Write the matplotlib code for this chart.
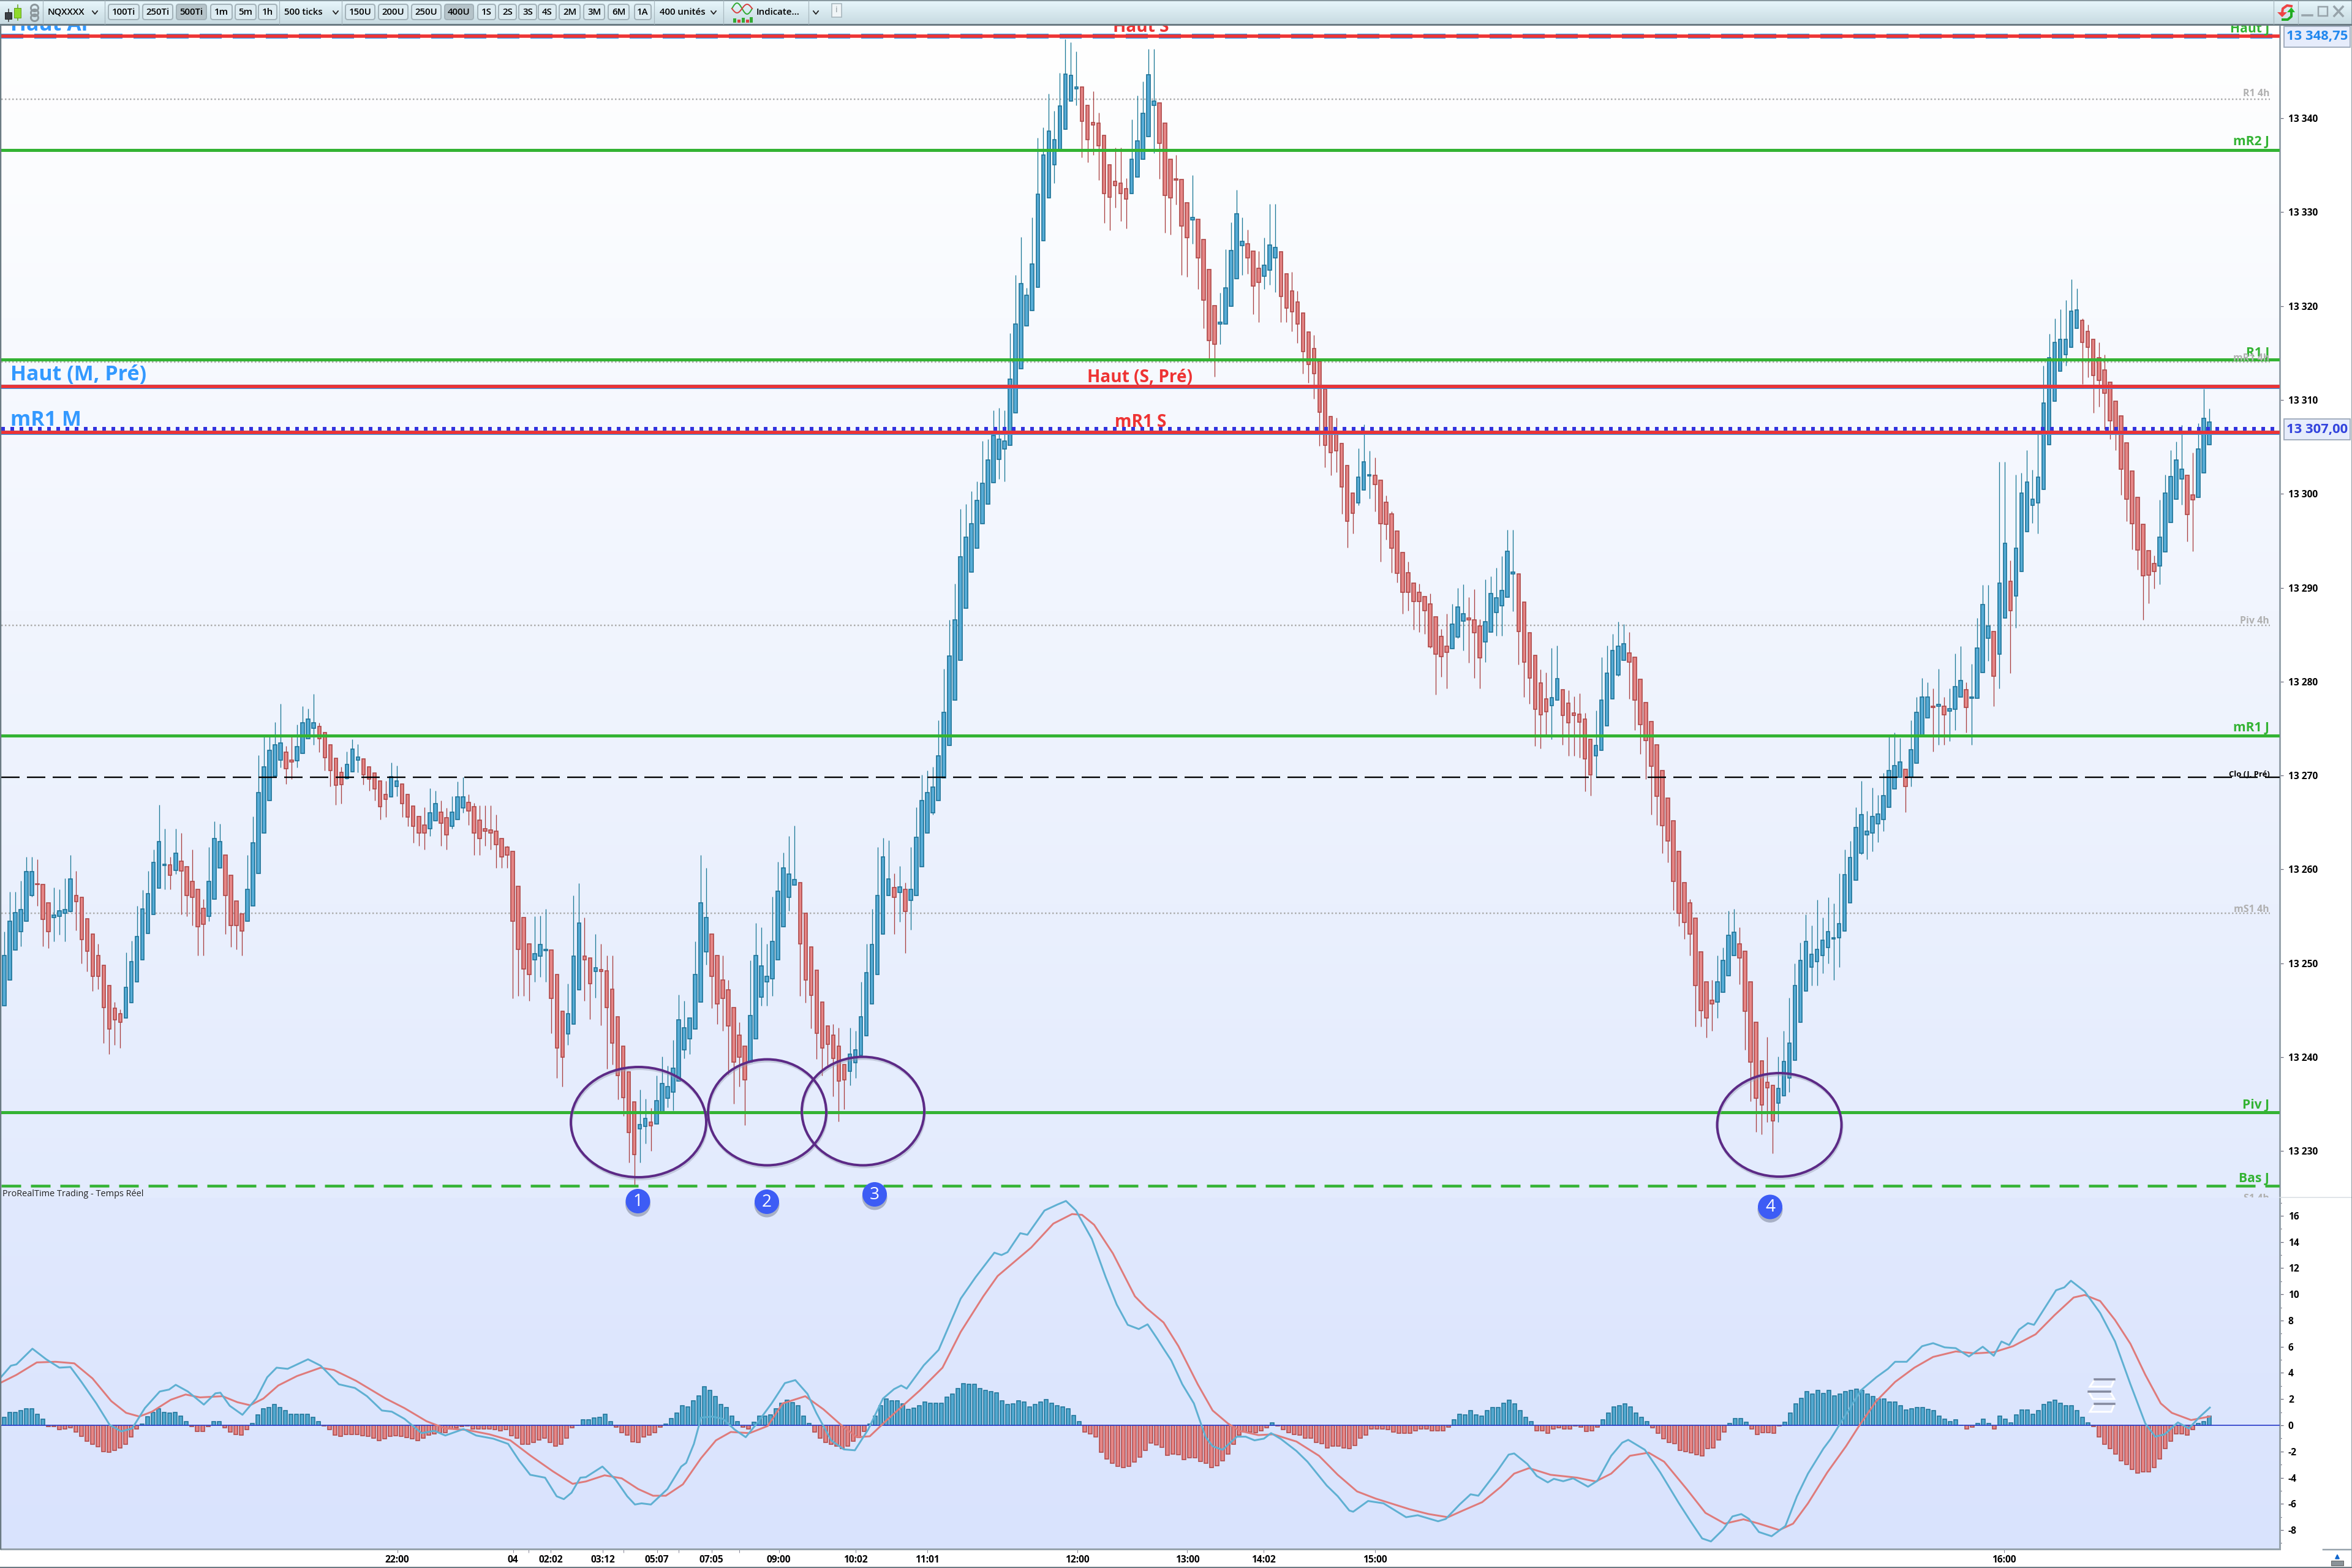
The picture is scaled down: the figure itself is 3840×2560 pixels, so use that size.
import numpy as np
import matplotlib
matplotlib.use("Agg")
import matplotlib.pyplot as plt
from matplotlib.colors import LinearSegmentedColormap
from matplotlib.patches import Rectangle, Ellipse, FancyBboxPatch, Polygon
from matplotlib.ticker import FixedLocator, FixedFormatter

plt.rcParams['font.family'] = ['Open Sans', 'DejaVu Sans']
plt.rcParams['lines.scale_dashes'] = False

PRICE_BASE = 13000
body_high = [
250.8,254.5,255.4,255.7,259.75,259.75,258.45,258.4,256.45,255.15,
255.6,255.7,259,257.25,257,254.75,253.1,250.8,249.8,247.6,
245.2,244.65,247.45,250.2,252.85,255.8,257.4,260.75,262.95,260.5,
260.5,261.75,260.9,260.3,258.75,257.85,255.85,258.75,263.3,262.95,
261.55,259.4,256.65,255.25,257.85,262.85,268.2,270.9,272.65,273.25,
273.45,272.5,271.65,273.1,275.6,276,275.6,275.25,274.6,273.25,
271.85,270.35,271.15,272.8,271.95,271.75,270.95,270.3,269.4,268,
269.9,269.4,269.1,268,266.75,265.65,264.7,266,267,266.1,
265.5,266.1,267.75,267.75,267.15,266.65,265.25,264.3,264.2,264.1,
263.3,262.35,261.9,258.2,254.85,252.1,251,252,251.5,251.4,
248.8,244.9,244.65,250.75,254.3,250.75,250.55,249.55,249.35,249.2,
247.25,244.3,241.2,238.45,235.25,232.85,233.5,233.1,235.35,237.2,
236.85,238.8,243.95,243.1,244.15,248.8,256.45,254.9,253.1,250.8,
248.25,247.2,245.3,242.35,241.2,244.45,250.8,249.75,248.6,252.3,
257.65,260.15,259.5,258.9,258.6,255.3,251.75,249.25,245.9,243.35,
242.35,241.15,239.2,240.35,240.8,244.3,249,252,257.25,261.3,
259,258.05,258.15,257.85,257.85,263.45,267.35,268.15,268.75,272.1,
276.75,282.7,286.55,293.3,295.4,296.8,299.3,301.1,303.6,306.2,
305.8,305.6,312.2,318.1,322.4,321.15,324.5,331.9,336.1,338.6,
337.7,341.3,344.7,344.55,343.35,343.3,341.4,339.55,339.45,338.2,
335.05,333.3,333.1,332.5,335.65,337.6,340.55,344.65,341.8,341.6,
339.45,335.65,333.55,333.5,331,329.4,329.25,327.1,323.9,320.05,
318.3,321.95,325.9,329.85,326.9,326.65,325.85,324,324.35,326.5,
326.25,325.75,323.4,321.6,320.45,319.25,317.25,315.5,314.1,311.2,
308.25,306.35,305.35,303,300.1,301.8,303.4,302,302,301.45,
299.1,297.85,296.05,293.75,291.6,290.5,289.5,289.05,288.3,286.9,
284.8,283.8,286.15,287.95,287.2,286.8,286.6,285.9,286.4,289.35,
288.95,289.7,293.85,291.65,291.5,288.45,285.2,282.8,279.85,278.15,
278.3,280.3,279.15,277.7,276.65,276.5,276,273.85,273.2,278,
280.9,283.3,283.8,284,283.05,282.6,280.25,277.75,275.75,273.25,
270.55,267.6,265.2,261.9,258.6,256.45,254.8,251.2,248.05,246.05,
248,250.3,252.95,253.3,252.05,251.3,248.05,243.75,239.6,237.3,
237,236.65,239.55,241.5,247.6,250.3,252.3,250.95,251.45,252.45,
253.4,252.75,254.25,259.45,261.25,264.45,265.85,264.1,265.65,265.9,
267.85,270.5,271.05,271.45,270.65,272.75,276.7,278.35,278.35,277.35,
277.55,277.35,277.1,279.45,280.1,279.15,278.35,283.6,288.2,285.95,
285.35,290.5,294.7,290.7,294.2,300.05,301.25,299.45,301.8,309.65,
314.5,316.1,316.45,316.45,319.45,319.6,318.45,317.3,316.45,314.5,
313.2,311.9,309.85,308.3,305.45,302.4,299.6,296.75,293.95,292.6,
295.4,300.05,301.85,303.6,302.6,302,299.85,304.8,308.05,307.65]
body_low = [
245.5,248.2,251.4,253.35,254.5,257.2,258.37,254.65,253.35,254.9,
255,255.3,255.5,256.6,252.5,251.3,248.6,248.6,245.3,243,
243.95,243.7,244.15,245.8,248,250.4,253.15,255.2,258,260.45,
259.35,259.9,259.85,257.2,257,253.9,254.15,255,256.85,260.15,
257.25,254.05,254.05,253.45,254.45,256.1,259.55,263.9,267.35,269.95,
271.65,270.75,271.45,271.55,272.35,273.9,275,273.9,271.9,270.5,
268.95,269,269.7,270.4,271.65,270.1,269.6,268.6,266.65,267.45,
267.75,268.8,267,265.6,264.6,263.85,263.9,264.3,265.2,264.9,
263.7,264.6,265.3,266.55,266.25,263.9,263.3,264.1,263.9,262.65,
261.35,261.5,254.5,251.5,249.4,248.8,250.4,250.75,251.35,246.25,
241,240,242.5,243.55,247.2,250.4,247.8,249.15,249.15,245.3,
241.5,238.05,235.7,232,229.6,232.4,232.6,232.7,232.9,234.2,
235.65,236.25,237.45,240.8,241.95,243,245.9,251.2,248.6,245.65,
246.25,243.35,239.45,240,237.6,239.45,241.95,246.4,248,248.35,
250.35,253.9,257.05,258.35,252.1,248.25,246.6,242.55,240.95,241.35,
239.85,237.45,237.6,238.5,239.4,240.2,242.3,245.65,248.8,253.1,
257.2,257.05,257.55,255.5,256.7,257.25,260.3,263.85,266,267.35,
269.75,273.2,278,282.3,287.8,291.65,294.2,296.8,298.9,301.2,
303.65,304.75,305.15,308.65,313.35,317.9,319.5,322,326.95,331.55,
335.05,336.45,338.85,341.8,343.15,339.65,337.7,339.25,337.05,331.95,
331.6,332.8,331.95,331.4,331.95,333.75,335.65,338.05,341.35,337.3,
331.8,331.55,333.4,328.5,327.3,329.2,325.1,320.65,316.3,315.9,
318.05,318.1,320,322.9,326.45,325.1,322.15,322.5,323.2,323.8,
325.15,321.05,319.8,319.4,318.1,315.15,313.75,312.8,308.7,305.15,
304.4,304.6,300.7,297.1,297.95,299.05,300.4,301.9,301,296.8,
296.75,294.2,291.55,289.5,289.5,288.5,288.5,287.55,283.7,282.9,
282.65,283.1,283.5,284.75,286.45,286.55,285.2,282.5,284.2,285.25,
287.35,288.1,289,291.45,285.35,282.05,280.4,277.05,276.45,276.8,
277.45,278,276.4,275.6,276.4,275.65,271.75,270.1,272.1,272.7,
275.3,278.15,280.7,282.3,282.1,278,275.4,273.7,271,267.8,
264.65,263.05,258.75,255.3,254.35,253.1,247.65,244.95,244.15,245.65,
245.9,246.9,248.7,250.85,250.55,244.9,239.5,235.6,234.9,236.75,
233.2,235.1,235.9,237.75,239.65,243.75,247.05,249.6,250.2,250.85,
251.65,252.6,252.75,253.45,256.45,258.85,261.7,263.7,263.9,264.85,
265.3,266.6,268.6,269.8,268.8,269.8,271.3,274.1,276.15,277.25,
277.35,276.45,276.85,277.05,278.35,277.25,278.25,278.25,280.95,284.6,
280.55,282.9,286.75,287.55,289.1,291.75,295.95,298.75,299.05,300.45,
305.2,309.85,313.05,314.8,315.6,317.6,316.1,315.6,312.6,312.05,
310.7,307.8,306.45,302.65,299.45,296.8,294,291.3,291.35,291.75,
292.3,293.8,296.95,299.45,301.55,297.8,299.35,299.65,302.2,305.2]
wick_high = [
253.4,257.6,257.6,258.8,261.3,261.3,261.1,258.4,256.45,258.1,
257.9,259.05,261.55,259.85,257,254.75,253.1,252.1,249.8,247.6,
245.85,245.1,251.15,252.4,256.1,257.8,259.85,262.1,266.85,264.3,
261.3,264.3,263.9,260.3,262.1,257.85,256.85,262.4,265.1,264.85,
261.55,259.4,256.65,255.25,261.55,265.65,272.15,274.1,274.1,275.65,
277.65,273.15,274.1,275.4,277.35,277.1,278.65,275.6,274.6,273.25,
271.85,270.9,272.55,273.85,273.35,271.75,270.95,270.3,269.4,269.4,
271.35,271.05,269.1,268,266.75,265.65,266.6,268.65,268.35,267.35,
266.55,267.8,269.35,269.8,268,267.1,266.8,266.8,266.8,265.8,
263.3,262.5,261.9,258.2,254.85,252.1,255,255.05,255.8,251.4,
248.8,244.9,247.8,257.25,258.55,254.9,250.55,253.1,252.1,250.85,
250.85,244.3,241.2,238.45,235.25,236.55,235.55,234.6,238.05,240.05,
239.1,241.8,246.65,246,244.15,252.3,261.55,260.15,253.1,250.85,
250.8,248.25,245.3,243.75,241.2,250.3,254.3,253.85,252.1,257.1,
260.8,261.8,263.55,264.65,258.6,255.3,251.75,249.25,245.9,243.35,
243.55,243.1,239.2,243.1,242.8,248,252.1,255.8,262.4,263.35,
263.1,259.55,260.35,258.6,262.4,266.6,270.1,270.55,270.9,275.9,
281.35,286.6,290.4,298.4,298.9,300.3,301.3,305.6,305.8,308.9,
309.15,308.9,317.1,323.3,327.35,321.9,329.45,337.9,339,342.6,
340.8,344.85,348.4,348.1,347.1,343.3,341.4,342.9,340.6,338.2,
335.05,336.85,336.85,333.6,339.85,342.4,343.9,347.4,347.4,341.6,
339.45,335.65,336.1,333.5,331,333.95,329.25,327.1,323.9,320.05,
321.4,326.05,328.9,332.35,329.45,328.15,325.85,325.85,327.3,330.85,
330.85,325.75,323.4,323.6,321.6,319.25,317.25,316.9,314.1,311.2,
308.25,308.1,305.35,303,300.1,304.85,307.4,304.6,303.85,301.45,
299.8,298.1,296.05,293.75,292.75,290.5,290.45,289.05,289.4,286.9,
285.6,287.25,288.3,290,290.35,289,289.85,286.65,290.85,291.2,
292.15,293.35,296.15,296.15,291.5,288.45,285.2,282.8,281.3,280.95,
283.6,283.85,279.15,279.1,278.4,278.75,276.65,273.85,276.9,282.6,
283.85,285.1,286.35,286.1,285.3,282.6,280.25,277.75,275.75,273.25,
270.55,267.6,265.2,261.9,258.6,256.85,254.8,251.2,248.05,248.2,
250.85,251.7,255.6,255.8,253.85,251.3,248.05,243.75,239.6,242.15,
237,240.05,242.8,246.35,250,252.2,255.2,254.05,256.75,254.85,
257.05,256.4,259.6,262.1,263.05,266.6,269.4,266.25,268.7,267.9,
270.25,274.25,274.6,274,270.65,275.9,278.35,280.35,279.9,279.25,
281.35,278.35,279.25,283,283.75,279.9,281.9,286.8,290.3,290.3,
285.35,303.4,303.4,292.9,302.05,302.2,304.65,302.55,306.55,313.65,
317.05,318.65,319.65,320.65,322.85,321.85,318.65,318,316.45,316.1,
314.85,311.9,309.85,308.3,305.45,302.4,299.6,296.75,293.95,293.4,
299.35,302.05,304.65,305.55,307.3,302,304.4,307.5,311.2,309.1]
wick_low = [
245.5,248.2,251.4,251.8,254.5,257.1,256.1,251.8,251.6,252.3,
253.05,252.3,255.45,253.5,250,249.1,247.05,247.25,241.5,240.35,
241.3,241,244.15,245.8,248,250.4,253.15,255.2,258,257.85,
257.85,259.5,255.2,255,254,250.8,250.8,254.45,256.85,260.15,
253.1,251.75,251.45,250.8,254.45,256.1,259.55,263.9,267.35,269.95,
270.85,269.1,269.6,270.85,272.35,273.9,273.3,272.5,270.55,268.8,
266.85,267,269.6,270.4,270.35,269.05,268.35,267.35,265.3,265.6,
267.75,267.8,265.6,264.6,262.85,262.5,262.1,263.55,265.2,262.5,
262.1,264.3,265.3,266.05,264.75,261.55,261.55,262.5,262.1,260.15,
260.15,260.15,246.25,246.55,246.55,246,248.05,248.55,248.05,242.55,
237.8,236.85,241.3,243.55,247.2,246,244.05,246.3,243.4,238.75,
239.2,235.5,233.75,228.8,226.4,228.8,230.8,230.05,232.9,234.2,
234.65,234.3,237.45,239.85,240.35,243,245.9,249.85,245.25,243.5,
242.8,238.2,235.05,236.85,232.75,239.45,241.95,245.45,245.5,246.55,
250.35,253.9,255.6,258.35,246.55,245.8,243.05,239.8,238.05,238.9,
235.8,233.15,234.45,237,237.75,240.2,242.3,245.65,248.8,253.1,
257.2,253.1,254.4,251.1,253.55,257.25,260.3,263.85,265.8,267.35,
269.75,273.2,278,282.3,287.8,291.65,294.2,296.8,298.9,301.2,
301.6,301.3,305.15,308.65,313.35,317.9,319.5,322,326.95,331.55,
333.1,336.45,338.85,341.8,341.35,335.85,335.3,336.1,333.4,328.85,
328.05,330.5,329.05,328.25,331.95,333.75,335.65,338.05,336.3,333.55,
327.8,327.6,330.8,323.3,323.1,326.65,321.8,317.65,314.4,312.5,
315.9,318.1,320,322.9,323.3,323.4,319.1,318.3,321.8,322.25,
321.5,318.3,318.3,317.3,316.05,312.8,311.85,310.1,305.1,302.8,
302,302.3,297.85,294.3,295.8,298.8,300.4,299.5,298.1,292.75,
295.1,291.6,290.55,287.2,287.55,285.55,285.3,285.05,283.6,278.6,
280.5,279.3,283.5,284.6,283.3,282,280.4,279.3,282.1,285.25,
284.9,284.9,289,287.5,281.8,278.35,277.65,273.15,272.85,274.3,
273.85,278,273.3,272.1,272.1,271.9,268.3,267.85,269.8,272.7,
275.3,278.15,280.55,282.3,278.15,274.85,272.3,269.6,265.8,264.7,
261.75,260.75,255.65,253.95,252.6,250.85,243.25,243.25,242.1,242.8,
244.15,246.9,248.7,250.85,247.75,240.8,235.3,232.05,231.8,233.1,
229.75,233.1,235.9,236.3,239.65,243.75,247.05,247.6,247.6,248.95,
249.95,248.25,249.6,253.45,256.45,258.85,261.6,261.1,261.9,262.9,
264.05,266.6,268.6,269.8,266.1,268.85,271.3,274.1,276.15,272.55,
273.25,273.25,273.65,274.85,278.35,274.55,273.25,278.25,280.95,282.2,
277.35,279.25,286.75,280.9,285.75,291.75,295.95,296.85,295.8,300.45,
305.2,309.85,313.05,313.65,315.6,317.6,311.7,312.4,308.65,309.3,
306.85,305.85,304.65,299.85,297.05,294.1,291.9,286.55,288.35,289.9,
290.35,293.8,296.95,299.45,298.85,294.9,293.9,299.65,302.2,305.2]
direction = ("BBBBBBRRRB" "BBBRRRRRRR" "RRBBBBBBBB" "RBRRRRRBBB" "RRRRBBBBBB"
             "BRRBBBBRRR" "RRBBBRRRRR" "BBRRRRRBBR" "RBBBRRRRRR" "RRRRRRBBBR"
             "RRBBBRRBRR" "RRRRRBBRBB" "BBBBBBBBRR" "RRRRRBBBBB" "BBBBRRRRRR"
             "RRRBBBBBBB" "BRBRBBBBBB" "BBBBBBBBBB" "BBBBBBBBBB" "BBBBBRRRRR"
             "RRRRBBBBBR" "RRRRRBRRRR" "BBBBBRRRBB" "BRRRRRRRRR" "RRRRRBBBRR"
             "RRRRRRRRRR" "RRBBBRRRBB" "BBBBRRRRRR" "BBRRRRRRBB" "BBBBRRRRRR"
             "RRRRRRRRRR" "BBBBRRRRRR" "RBBBBBBBBB" "BBBBBBBBBB" "BBBBRBBBBR"
             "BRBBBRBBBB" "RBBRBBBBBB" "BBBBBBRRRR" "RRRRRRRRRR" "BBBBBRRBBB")

histogram = [
.6,.96,.96,1.1,1.25,1.25,.85,.45,-.1,-.1,-.35,-.3,-.2,-.5,-.85,-1.2,-1.45,-1.65,-2,-2.05,
-1.9,-1.75,-1.45,-.9,-.3,.1,.65,1,1.25,1,.95,1,.7,.3,-.1,-.45,-.45,-.1,.3,.3,
-.2,-.5,-.7,-.75,-.35,.15,.8,1.25,1.35,1.6,1.35,1.1,.85,.85,.85,.85,.6,.3,-.05,-.35,
-.75,-.85,-.7,-.7,-.7,-.8,-.85,-1,-1.15,-1.05,-.85,-.8,-.85,-.95,-1.05,-1.15,-1,-.75,-.65,-.55,
-.55,-.3,-.2,-.1,-.05,-.3,-.3,-.3,-.3,-.35,-.4,-.35,-.8,-1,-1.45,-1.45,-1.3,-1.1,-1,-1.3,
-1.6,-1.45,-1,-.2,.02,.4,.4,.55,.6,.85,.3,-.15,-.55,-.75,-1.25,-1.3,-.9,-.75,-.55,-.15,
.1,.5,.95,1.5,1.4,1.85,2.25,2.95,2.65,2.2,1.6,1.35,.7,.3,-.15,-.3,.25,.7,.7,.8,
1.25,1.7,1.9,1.75,1.5,.7,.15,-.5,-1,-1.3,-1.45,-1.6,-1.8,-1.6,-1.2,-.95,-.45,.1,.7,1.5,
2,1.85,1.85,1.65,1.2,1.3,1.5,1.8,1.7,1.7,1.7,2.15,2.4,2.8,3.2,3.15,3.15,2.8,2.65,2.55,
2.5,1.85,1.6,1.65,1.85,1.8,1.4,1.6,1.8,1.95,1.7,1.5,1.4,1.25,.75,.3,-.5,-.65,-.9,-2.05,
-2.55,-2.9,-3.15,-3.25,-3.15,-2.8,-2.45,-1.9,-1.35,-1.5,-1.7,
-2.3,-2.2,-2.25,-2.6,-2.5,-2.5,-2.75,-2.9,-3.25,-3.1,-2.7,-2.2,-1.45,-.75,-.5,-.5,-.55,-.4,-.2,.2,
-.04,-.35,-.55,-.7,-.75,-1,-1,-1.3,-1.4,-1.75,-1.6,-1.6,-1.75,-1.8,-1.55,-1,-.75,-.3,-.3,-.3,
-.35,-.5,-.6,-.6,-.6,-.4,-.3,-.3,-.4,-.4,-.4,-.15,.4,.85,.8,1.1,.8,.7,1.1,1.35,
1.35,1.7,1.9,1.65,1.1,.6,.3,-.4,-.4,-.6,-.3,-.2,-.3,-.3,-.05,-.15,-.45,-.4,-.15,.4,
.95,1.4,1.5,1.65,1.4,.95,.6,.3,-.2,-.6,-1.05,-1.3,-1.4,-1.9,-2,-2.1,-2.25,-2.35,-1.8,-1.75,
-1.1,-.5,.15,.5,.5,.25,-.3,-.7,-.55,-.55,-.6,-.05,.25,.95,1.65,2.05,2.55,2.4,2.65,2.45,
2.65,2.25,2.4,2.55,2.65,2.75,2.65,2.4,2.2,2,2,1.8,1.8,1.5,1.15,1.25,1.35,1.35,1.2,1.1,
.7,.45,.3,.4,.02,-.3,-.15,.15,.45,.15,-.3,.7,.45,.2,.8,1.15,1.15,.85,1.1,1.6,
1.8,1.9,1.7,1.5,1.5,1.1,.6,.2,-.1,-.9,-1.45,-1.8,-2.2,-2.7,-3,-3.35,-3.65,-3.55,-3.55,-3.25,
-2.55,-1.8,-1.2,-.65,-.65,-.75,-.35,.15,.3,.7]

fast_idx = [-0.8,1.2,2.2,5.1,7.6,10,12,14,16.7,19.1,21.2,23.2,25.5,28.2,29.9,31.1,33.3,36.2,38.3,39.2,40.9,43.2,45.7,47.7,49.4,51.4,55.1,57.4,60.7,63.6,65.8,68.5,70.3,72.6,75.7,78,80,83.3,85.6,88.7,91.4,93.4,95.4,98.1,100.2,101.5,102.9,104.5,105.5,108.5,110.9,113,114.4,115.6,117.3,120.3,122.8,123.7,125.1,126.4,128.4,130.4,132.5,134.5,136.5,139.2,141.6,143.5,145.7,147.3,150,152.3,154.3,156.7,159.4,161.4,162.7,163.7,166.8,169.5,173.5,176.2,179.6,180.9,182,184.3,185.6,188.7,191,192.6,194.4,197.3,199.8,201.8,203.8,205.8,207.4,209.2,
210.3,211.7,213.7,215.8,217.9,219.2,221,222.4,223.6,225.2,226.8,228.5,229.8,231.6,234.4,236.4,239.9,241.9,244,244.7,247.4,250.2,254.3,256.4,260.1,261.5,264,266,267.4,270.8,272.9,273.9,276.3,278,280,281.1,282.8,284.6,287.3,289,291.5,293.5,294.6,297.6,300.4,303.8,305.9,308,309.6,311.8,313.5,315.1,316.5,318.3,320.6,323.1,325.2,327.2,330,331.3,334.8,336.8,339.6,341.7,343,345.1,347.9,349.9,352,354,356.4,358.9,360.9,362.3,363.7,365.5,367.1,368.2,372.2,373.7,374.9,377.4,380.2,382.9,385.7,388.4,390.2,391.9,394.3,396.3,398.1,400.1]
fast_val = [3.58,4.55,4.65,5.85,5.04,4.4,4.45,3.31,1.67,.04,-.47,-.24,1.31,2.58,2.73,3.09,2.58,1.58,2.44,2.49,1.49,.8,2.04,3.67,4.4,4.31,5.04,4.55,3.13,2.85,2.22,1.13,1.04,.49,-.6,-.42,-.78,-.29,-.78,-1.02,-1.42,-2.69,-3.78,-4,-5.42,-5.64,-5.15,-4,-3.96,-3.15,-4.15,-5.42,-6.05,-5.96,-6.05,-4.87,-3.15,-2.87,-1.42,.58,.67,.49,-.33,-.91,.13,1.67,3.22,3.45,2.4,.95,-1.15,-1.84,-1.91,-.33,2.04,2.76,3.04,2.8,4.58,5.76,9.67,11.31,13.18,13,13.22,14.67,14.55,16.4,16.85,17.13,16.4,14.22,11.31,9.22,7.67,7.35,7.71,6.58,
5.85,4.95,3.13,1.67,-.87,-1.6,-1.87,-1.33,-.87,-.87,-1.15,-1.02,-.6,-1.05,-1.96,-2.78,-4.6,-5.42,-6.51,-6.6,-5.78,-5.96,-7.02,-6.87,-7.33,-7.15,-6.05,-5.27,-5.38,-3.51,-2.24,-2.15,-2.96,-3.87,-4.36,-4.09,-4.27,-4.05,-4.69,-4.24,-2.33,-1.33,-1.11,-1.87,-3.6,-5.96,-7.33,-8.64,-8.87,-7.96,-6.96,-6.78,-7.15,-8.15,-8.47,-7.69,-5.42,-3.69,-1.78,-1.05,1.31,2.67,3.67,4.31,4.85,4.85,6.04,6.27,5.95,5.89,5.25,6,5.31,6.4,6.13,7.31,7.8,7.67,10.31,10.53,11.04,10.22,8.58,6.4,3.13,.13,-.87,-.69,.22,-.24,.58,1.35]
signal_idx = [-0.8,2.2,5.9,9.3,12.7,16,19.4,22.1,24.5,26.8,30.2,32.9,35.5,39.6,42.3,44.6,47,49.7,53.1,57.4,59.8,63.8,69.2,72.6,76.6,80,84,88,91.8,95.5,99.5,103.1,105.5,108.9,112,115,117.7,120,123.1,126.4,129.1,131.8,135.2,138.5,141.2,145.3,148.6,152,154.7,157,160.1,166.1,170.2,173.5,177.6,180.2,186.3,190.3,193.7,195.5,197.7,201.1,205.1,207.2,210.3,
213,216.5,219.2,222,224.1,227.5,230.2,234.4,238.5,241.9,245.4,248.8,255,258.4,261.9,264.6,268.1,271.5,273.9,276.6,280.5,285.3,288.7,291.5,294.9,298.3,301.1,305.2,308.6,312.1,315.5,318.3,322,324.5,327.2,330.7,334.1,336.6,339.6,343,346.5,349.9,354,357.5,360.9,364.4,368.5,371.9,375.4,377.4,380.2,382.9,385.7,388.4,391.2,393.2,396.7,400.1]
signal_val = [3.22,3.85,4.8,4.85,4.73,3.58,1.85,.95,.67,1.04,1.95,2.35,2.13,2.22,1.76,1.53,2.04,3.04,3.76,4.4,4.22,3.4,2.04,1.31,.31,-.24,-.36,-.69,-1.15,-2.33,-3.51,-4.47,-4.29,-3.82,-4.05,-4.87,-5.38,-5.38,-4.51,-2.51,-1.15,-.51,-.6,-.05,1.67,2.22,1.22,-.05,-.91,-.84,.4,2.67,4.4,7.13,9.85,11.4,13.58,15.4,16.13,16.07,15.31,13.13,9.85,8.95,7.85,
6.04,3.13,1.13,.13,-.42,-.75,-.69,-1.24,-2.33,-3.78,-5.05,-5.6,-6.42,-6.78,-7.02,-6.51,-5.87,-4.69,-3.69,-3.27,-3.78,-4,-4.29,-3.69,-2.33,-2.09,-2.78,-4.87,-6.69,-7.51,-7.18,-7.51,-8,-7.51,-5.96,-3.6,-1.6,.04,1.85,3.31,4.4,5.22,5.64,5.49,5.58,6.04,6.95,8.4,9.76,9.95,9.49,8.04,6.22,3.85,1.67,.95,.4,.67]

level_high_all = 13348.75
level_mr2_day = 13336.6
level_r1_day = 13314.3
level_high_prev = 13311.4
level_mr1_month = 13306.93
level_mr1_week = 13306.54
level_mr1_day = 13274.25
level_close_prev = 13269.8
level_pivot_day = 13234.1
level_low_day = 13226.3
levels_4h = [13342.0, 13314.04, 13286.0, 13255.3]
last_price = 13307.0
price_ticks = list(range(13230, 13350, 10))
macd_ticks = list(range(-8, 18, 2))
time_tick_idx = [71.3, 92.3, 99.1, 108.6, 118.4, 128.3, 140.5, 154.4, 167.4, 194.7, 214.6, 228.4, 248.7, 362.8]
time_tick_labels = ['22:00', '04', '02:02', '03:12', '05:07', '07:05', '09:00', '10:02', '11:01', '12:00', '13:00', '14:02', '15:00', '16:00']
time_minor_idx = [95.1, 112.3, 122.3, 133.3]

W, H = 3840, 2560
PX = 0.72
fig = plt.figure(figsize=(38.4, 25.6), dpi=100, facecolor='white')

def axes_px(x0, y0, x1, y1, **kw):
    return fig.add_axes([x0/W, 1 - y1/H, (x1 - x0)/W, (y1 - y0)/H], **kw)

def gradient(ax, top, bottom):
    cm = LinearSegmentedColormap.from_list('g', [top, bottom])
    ax.imshow(np.linspace(0, 1, 256)[:, None], cmap=cm, extent=(0, 1, 0, 1),
              transform=ax.transAxes, aspect='auto', zorder=0)

AXIS = '#97A3AC'
TICKFONT = dict(fontsize=15.5*PX, fontweight='bold', color='black')

# ---------------- price panel
ax = axes_px(2, 41, 3722, 1955)
gradient(ax, '#FFFFFF', '#E3EBFD')
idx = np.arange(len(body_high))
bh = PRICE_BASE + np.array(body_high)
bl = PRICE_BASE + np.array(body_low)
wh = PRICE_BASE + np.array(wick_high)
wl = PRICE_BASE + np.array(wick_low)
up = np.array([c == 'B' for c in direction])
for mask, face, edge, wick in [(up, '#57ACD6', '#1E7499', '#1A7896'),
                               (~up, '#E58686', '#B04A4A', '#A83C3C')]:
    ax.vlines(idx[mask], wl[mask], wh[mask], color=wick, lw=1.3*PX, zorder=2)
    ax.bar(idx[mask], np.maximum(bh[mask]-bl[mask], 0.12), bottom=bl[mask], width=0.62,
           facecolor=face, edgecolor=edge, linewidth=1.7*PX, zorder=3)

GREEN, RED, LBLUE = '#33B333', '#EE3333', '#2E97EE'
ax.axhline(level_high_all, color=LBLUE, lw=8*PX, dashes=(36*PX, 18*PX), dash_capstyle='butt', zorder=5)
ax.axhline(level_high_all, color=RED, lw=5.5*PX, zorder=6)
ax.axhline(level_high_prev, color=LBLUE, lw=7*PX, zorder=5)
ax.axhline(level_high_prev, color=RED, lw=5.5*PX, zorder=6)
ax.axhline(level_mr1_week, color=LBLUE, lw=7*PX, zorder=5)
ax.axhline(level_mr1_week, color=RED, lw=5.5*PX, zorder=6)
ax.axhline(level_mr1_month, color='#3333DD', lw=6*PX, dashes=(6*PX, 9*PX), dash_capstyle='butt', zorder=5)
for lv in [level_mr2_day, level_r1_day, level_mr1_day, level_pivot_day]:
    ax.axhline(lv, color=GREEN, lw=5*PX, zorder=5)
ax.axhline(level_low_day, color=GREEN, lw=4.5*PX, dashes=(32*PX, 16*PX), dash_capstyle='butt', zorder=5)
ax.axhline(level_close_prev, color='black', lw=2.4*PX, dashes=(30*PX, 12*PX), dash_capstyle='butt', zorder=5)
for lv in levels_4h:
    ax.axhline(lv, xmax=(3706-2)/3720, color='#ABABAB', lw=2.5*PX, dashes=(2.5*PX, 3.5*PX), dash_capstyle='butt', zorder=1)

ax.set_xlim((2-7)/9.023, (3722-7)/9.023)
ax.set_ylim(13340-(1955-193)/15.33, 13340+(193-41)/15.33)
ax.xaxis.set_visible(False)
ax.yaxis.tick_right()
ax.set_yticks(price_ticks, [f"{v//1000} {v%1000:03d}" for v in price_ticks], **TICKFONT)
ax.tick_params(axis='y', length=6*PX, width=1.2*PX, color='#667', pad=8*PX)
for s in ['top', 'left', 'bottom']:
    ax.spines[s].set_visible(False)
ax.spines['right'].set_color(AXIS)
ax.spines['right'].set_linewidth(3*PX)

# ---------------- indicator panel
ai = axes_px(2, 1955, 3722, 2529)
gradient(ai, '#E1E9FE', '#D9E3FD')
hv = np.array(histogram)
hi = np.arange(len(hv))
pos = hv >= 0
ai.bar(hi[pos], hv[pos], width=0.66, facecolor='#52A8CF', edgecolor='#1E7499', linewidth=1.6*PX, zorder=2)
ai.bar(hi[~pos], hv[~pos], width=0.66, facecolor='#E58686', edgecolor='#B04A4A', linewidth=1.6*PX, zorder=2)
ai.axhline(0, color='#3344CC', lw=1.8*PX, zorder=3)
ai.plot(signal_idx, signal_val, color='#DF7B7B', lw=3*PX, zorder=4)
ai.plot(fast_idx, fast_val, color='#5FB0D2', lw=3*PX, zorder=5)
ai.set_xlim((2-7)/9, (3722-7)/9)
ai.set_ylim(-(2529-2327)/21.38, (2327-1955)/21.38)
ai.yaxis.tick_right()
ai.set_yticks(macd_ticks, [str(v) for v in macd_ticks], **TICKFONT)
ai.yaxis.set_minor_locator(FixedLocator(list(range(-9, 18, 2))))
ai.tick_params(axis='y', which='major', length=6*PX, width=1.2*PX, color='#667', pad=8*PX)
ai.tick_params(axis='y', which='minor', length=3*PX, width=1.2*PX, color='#667')
ai.set_xticks(time_tick_idx, time_tick_labels, **TICKFONT)
ai.xaxis.set_minor_locator(FixedLocator(time_minor_idx))
ai.tick_params(axis='x', which='major', length=6*PX, width=1*PX, color='#889', pad=4*PX)
ai.tick_params(axis='x', which='minor', length=6*PX, width=1*PX, color='#889')
for s in ['top', 'left']:
    ai.spines[s].set_visible(False)
for s in ['right', 'bottom']:
    ai.spines[s].set_color(AXIS)
    ai.spines[s].set_linewidth(3*PX)

# ---------------- overlay in pixels
ov = axes_px(0, 0, W, H, zorder=20)
ov.patch.set_alpha(0)
ov.axis('off')

def label(x, y, s, color, size, ha='left', weight='bold'):
    t = ov.text(x, y, s, color=color, fontsize=size*PX, ha=ha, va='baseline', fontweight=weight, zorder=3)
    return t

BL = '#3399FF'
label(17, 50, 'Haut Al', BL, 34)
label(17, 621, 'Haut (M, Pré)', BL, 34)
label(17, 695, 'mR1 M', BL, 34)
label(1863, 52, 'Haut S', RED, 28, 'center')
label(1861, 624, 'Haut (S, Pré)', RED, 28, 'center')
label(1862, 697, 'mR1 S', RED, 28, 'center')
for y, s in [(53, 'Haut J'), (237, 'mR2 J'), (582, 'R1 J'), (1194, 'mR1 J'), (1810, 'Piv J'), (1930, 'Bas J')]:
    label(3705, y, s, GREEN, 21, 'right')
for y, s in [(157, 'R1 4h'), (589, 'mR1 4h'), (1018, 'Piv 4h'), (1489, 'mS1 4h')]:
    label(3705, y, s, '#B0B0B0', 16, 'right')
s1 = label(3705, 1961, 'S1 4h', '#B0B0B0', 16, 'right')
s1.set_clip_on(True)
s1.set_clip_box(ax.bbox)
label(3706, 1267, 'Clo (J, Pré)', 'black', 13, 'right')
label(4, 1953, 'ProRealTime Trading - Temps Réel', '#222222', 14.5, weight='normal')

# price flags
for y0, y1, s, c in [(43, 77, '13 348,75', '#2288EE'), (684, 718, '13 307,00', '#3344DD')]:
    ov.add_patch(Rectangle((3729, y0), 108, y1-y0, facecolor='#E6ECFB', edgecolor='#A3AEBE', lw=2*PX, zorder=2))
    ov.text(3783, (y0+y1)/2, s, color=c, fontsize=22*PX, ha='center', va='center', fontweight='bold', zorder=3)

# circles and badges
for (cx, cy, w, h) in [(1042.5, 1832, 221, 180), (1252.5, 1816, 193, 173), (1409, 1814, 200, 177), (2905, 1836.5, 203, 169)]:
    ov.add_patch(Ellipse((cx+1, cy+3), w, h, fill=False, edgecolor='#9AA0B8', lw=4*PX, alpha=.45, zorder=1))
    ov.add_patch(Ellipse((cx, cy), w, h, fill=False, edgecolor='#5C2A86', lw=4*PX, zorder=2))
for (cx, cy, s) in [(1041.5, 1961, '1'), (1252, 1962, '2'), (1428, 1950, '3'), (2890, 1970.5, '4')]:
    ov.add_patch(Ellipse((cx, cy+5), 41, 41, facecolor='#7A8298', edgecolor='none', alpha=.55, zorder=2))
    ov.add_patch(Ellipse((cx, cy), 40, 40, facecolor='#3D5CF5', edgecolor='none', zorder=3))
    ov.text(cx, cy+1, s, color='white', fontsize=28*PX, ha='center', va='center', zorder=4)

# watermark
for pts in [[(3420, 2252), (3452, 2252), (3447, 2264), (3412, 2264)],
            [(3410, 2272), (3445, 2272), (3452, 2284), (3417, 2284)],
            [(3420, 2292), (3452, 2292), (3447, 2305), (3412, 2305)]]:
    ov.add_patch(Polygon(pts, closed=True, facecolor='#E4EBFE', edgecolor='white', lw=3*PX, zorder=2))
    ov.plot([pts[0][0], pts[1][0]], [pts[0][1], pts[1][1]], color='#83899F', lw=3.5*PX, zorder=3)

# toolbar
tb = LinearSegmentedColormap.from_list('tb', ['#E8F7FC', '#C6D9E0'])
ov.imshow(np.linspace(0, 1, 64)[:, None], cmap=tb, extent=(0, W, 41, 0), aspect='auto', zorder=5)
ov.plot([0, W], [40, 40], color='#6B7B83', lw=3*PX, zorder=6)
ov.plot([0, W], [0.5, 0.5], color='#6B7B83', lw=1.5*PX, zorder=6)
for x in [70, 171, 456, 558, 1068, 1181, 1320, 3712, 3752]:
    ov.plot([x, x], [1, 39], color='#A8B8BF', lw=1.2*PX, zorder=6)
buttons = [('100Ti', 177, 227, 0), ('250Ti', 233, 282, 0), ('500Ti', 288, 337, 1), ('1m', 344, 379, 0),
           ('5m', 384, 418, 0), ('1h', 422, 452, 0), ('150U', 564, 612, 0), ('200U', 618, 666, 0),
           ('250U', 672, 720, 0), ('400U', 726, 773, 1), ('1S', 780, 809, 0), ('2S', 814, 843, 0),
           ('3S', 847, 876, 0), ('4S', 879, 908, 0), ('2M', 913, 947, 0), ('3M', 953, 987, 0),
           ('6M', 993, 1027, 0), ('1A', 1036, 1063, 0)]
for s, x0, x1, active in buttons:
    ov.add_patch(FancyBboxPatch((x0+2, 9), x1-x0-4, 21, boxstyle='round,pad=2,rounding_size=4',
                                facecolor='#B5C3C9' if active else '#DCEBF1', edgecolor='#A3B2B9', lw=2*PX, zorder=6))
    ov.text((x0+x1)/2, 20, s, fontsize=15*PX, fontweight='semibold', ha='center', va='center', color='black', zorder=7)
for x, s, ha in [(78, 'NQXXXX', 'left'), (464, '500 ticks', 'left'), (1077, '400 unités', 'left'), (1235, 'Indicate...', 'left')]:
    ov.text(x, 20, s, fontsize=15*PX, fontweight='semibold', ha=ha, va='center', color='black', zorder=7)
# drop-down chevrons
for x in [155, 548, 1165, 1332]:
    ov.plot([x-4, x, x+4], [18, 23, 18], color='#222', lw=1.8*PX, zorder=7)
# toolbar icons
ov.add_patch(Rectangle((8, 20), 11, 11, facecolor='#3A3F45', edgecolor='#222', lw=1*PX, zorder=7))
ov.add_patch(Rectangle((23, 13), 11, 16, facecolor='#8FDB2C', edgecolor='#5F9E18', lw=1*PX, zorder=7))
ov.plot([13.5, 13.5], [15, 35], color='#333', lw=1.5*PX, zorder=6)
ov.plot([28.5, 28.5], [8, 33], color='#5F9E18', lw=1.5*PX, zorder=6)
for yc in (13, 21, 29):
    ov.add_patch(Ellipse((56.5, yc), 12, 11, fill=False, edgecolor='#8C979C', lw=3*PX, zorder=7))
t_curve = np.linspace(0, 1, 30)
ov.plot(1195+33*t_curve, 14-9*np.sin(t_curve*6.28), color='#33AA33', lw=2*PX, zorder=7)
ov.plot(1195+33*t_curve, 14+7*np.sin(t_curve*6.28), color='#D84040', lw=2*PX, zorder=7)
for xb, hb, cb in [(1197, 7, '#33AA33'), (1204, 5, '#D84040'), (1211, 8, '#33AA33'), (1218, 5, '#D84040'), (1224, 9, '#33AA33')]:
    ov.add_patch(Rectangle((xb, 37-hb), 5, hb, facecolor=cb, zorder=7))
ov.add_patch(Rectangle((1358, 6), 16, 22, facecolor='#F0F5F7', edgecolor='#A3B2B9', lw=1.5*PX, zorder=7))
ov.text(1366, 17, 'i', fontsize=14*PX, ha='center', va='center', color='#8C979C', zorder=8)
# refresh + window buttons
ov.add_patch(Polygon([(3718, 20), (3734, 20), (3726, 28)], facecolor='#EE4444', zorder=7))
ov.plot([3726, 3727, 3734, 3741], [21, 14, 9, 10], color='#EE4444', lw=4*PX, zorder=7)
ov.add_patch(Polygon([(3734, 20), (3747, 20), (3741, 12)], facecolor='#22BB22', zorder=7))
ov.plot([3741, 3741, 3735, 3727], [19, 27, 32, 32], color='#22AA22', lw=4*PX, zorder=7)
ov.plot([3759, 3775], [25, 25], color='#97A3AA', lw=3.5*PX, zorder=7)
ov.add_patch(Rectangle((3785, 11), 15, 15, fill=False, edgecolor='#97A3AA', lw=2.5*PX, zorder=7))
ov.plot([3811, 3825], [11, 26], color='#97A3AA', lw=3.5*PX, zorder=7)
ov.plot([3825, 3811], [11, 26], color='#97A3AA', lw=3.5*PX, zorder=7)
# frame + corner icon
ov.plot([1, 1], [41, 2529], color='#6B7B83', lw=2.5*PX, zorder=6)
ov.plot([0, W], [2559, 2559], color='#6B7B83', lw=2*PX, zorder=6)
ov.plot([W-0.5, W-0.5], [0, H], color='#6B7B83', lw=1.5*PX, zorder=6)
ov.plot([3793, W], [2530, 2530], color=AXIS, lw=2.5*PX, zorder=6)
ov.plot([3722, 3840], [1955, 1955], color='#D8DDE2', lw=1.5*PX, zorder=2)
ov.annotate('', xy=(3816, 2534), xytext=(3816, 2547), arrowprops=dict(arrowstyle='-|>', color='#1166CC', lw=1.5), zorder=7)
ov.add_patch(Rectangle((3806, 2548), 20, 8, facecolor='#8A9298', edgecolor='#666', lw=1*PX, zorder=7))

ov.set_xlim(0, W)
ov.set_ylim(H, 0)

fig.savefig('out.png', dpi=100)
